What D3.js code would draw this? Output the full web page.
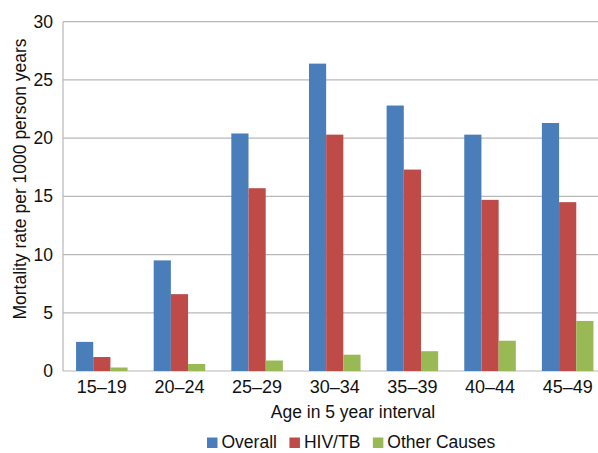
<!DOCTYPE html>
<html><head><meta charset="utf-8">
<script src="https://cdn.jsdelivr.net/npm/d3@7"></script>
<style>body{margin:0;background:#fff}svg{display:block}text{font-family:"Liberation Sans",Arial,Helvetica,sans-serif;fill:#111}</style>
</head><body>
<script>
const categories = ["15–19","20–24","25–29","30–34","35–39","40–44","45–49"];
const seriesNames = ["Overall","HIV/TB","Other Causes"];
const overall = [2.5, 9.5, 20.4, 26.4, 22.8, 20.3, 21.3];
const hivtb = [1.2, 6.6, 15.7, 20.3, 17.3, 14.7, 14.5];
const other = [0.3, 0.6, 0.9, 1.4, 1.7, 2.6, 4.3];
const yTicks = [0,5,10,15,20,25,30];
const colors = ["#4A7EBB","#BE4B48","#98B954"];
const series = [overall, hivtb, other];

const W=598,H=453;
const m={left:63,right:606.5,top:21.7,bottom:371};
const svg=d3.select("body").append("svg").attr("width",W).attr("height",H);
const x0=d3.scaleBand().domain(categories).range([m.left,m.right]).paddingInner(0.336).paddingOuter(0.168);
const x1=d3.scaleBand().domain(seriesNames).range([0,x0.bandwidth()]);
const y=d3.scaleLinear().domain([0,30]).range([m.bottom,m.top]);

// gridlines
svg.append("g").selectAll("line").data(yTicks).join("line")
  .attr("x1",m.left).attr("x2",m.right).attr("y1",d=>y(d)).attr("y2",d=>y(d))
  .attr("stroke","#b8b8b8").attr("stroke-width",1.2);
// y axis line
svg.append("line").attr("x1",m.left).attr("x2",m.left).attr("y1",m.top).attr("y2",m.bottom).attr("stroke","#b8b8b8").attr("stroke-width",1.2);

// y ticks labels
const yAxis=d3.axisLeft(y).tickValues(yTicks).tickSize(0).tickPadding(10);
const ga=svg.append("g").attr("transform",`translate(${m.left},0)`).call(yAxis);
ga.select(".domain").remove();
ga.selectAll("text").style("font-size","17.5px").attr("fill","#111").attr("font-family",null);

// bars
const groups=svg.append("g").selectAll("g").data(categories).join("g")
  .attr("transform",d=>`translate(${x0(d)},0)`);
groups.selectAll("rect").data((d,i)=>seriesNames.map((s,j)=>({s,v:series[j][i],j}))).join("rect")
  .attr("x",d=>x1(d.s)).attr("width",x1.bandwidth())
  .attr("y",d=>y(d.v)).attr("height",d=>y(0)-y(d.v))
  .attr("fill",d=>colors[d.j]);

// x axis labels
const xAxis=d3.axisBottom(x0).tickSize(0).tickPadding(9);
const gx=svg.append("g").attr("transform",`translate(0,${m.bottom})`).call(xAxis);
gx.select(".domain").remove();
gx.selectAll("text").style("font-size","18px").attr("fill","#111").attr("font-family",null);

// axis titles
svg.append("text").attr("x",353).attr("y",418).attr("text-anchor","middle").style("font-size","17.5px").text("Age in 5 year interval");
svg.append("text").attr("transform","translate(25.5,179) rotate(-90)").attr("text-anchor","middle").style("font-size","17.5px").text("Mortality rate per 1000 person years");

// legend
const lg=svg.append("g");
let lx=207;
seriesNames.forEach((s,j)=>{
  lg.append("rect").attr("x",lx).attr("y",437.5).attr("width",10.5).attr("height",10.5).attr("fill",colors[j]);
  const t=lg.append("text").attr("x",lx+14.5).attr("y",448).style("font-size","17.5px").text(s);
  lx+=14.5+t.node().getComputedTextLength()+12.5;
});
</script>
</body></html>
